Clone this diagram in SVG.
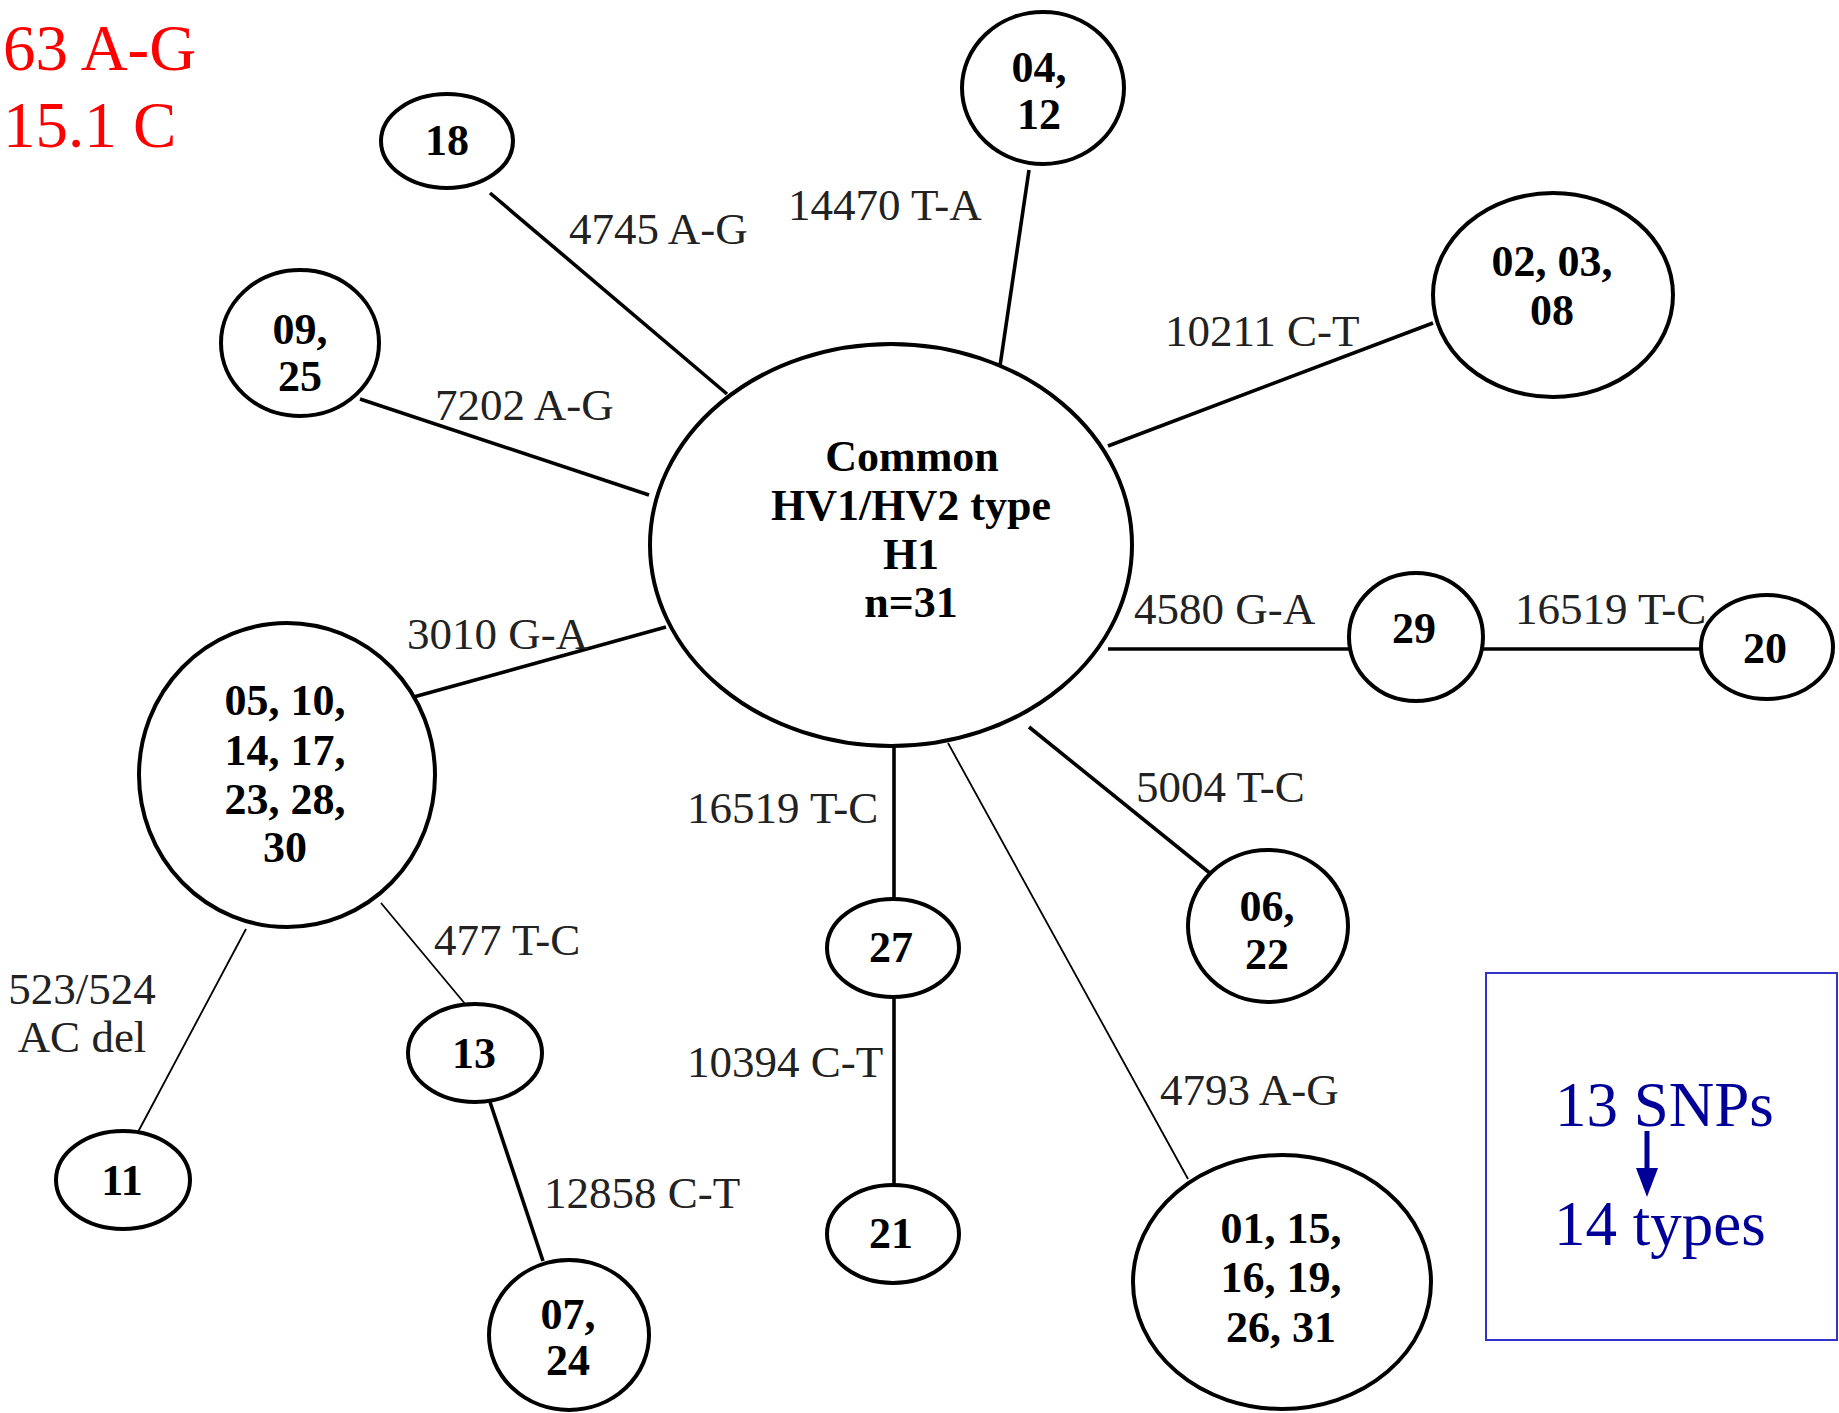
<svg xmlns="http://www.w3.org/2000/svg" width="1839" height="1413" viewBox="0 0 1839 1413">
<style>
.n{fill:#fff;stroke:#000;stroke-width:4}
.t{font-family:"Liberation Serif","Times New Roman",serif;font-weight:bold;font-size:44px;fill:#000;text-anchor:middle}
.l{font-family:"Liberation Serif","Times New Roman",serif;font-size:45px;fill:#222}
.k{stroke:#000;stroke-width:3.6;fill:none}
.f{stroke:#000;stroke-width:1.8;fill:none}
</style>
<rect width="1839" height="1413" fill="#fff"/>
<g id="connectors">
<line class="k" x1="490" y1="193" x2="727" y2="394"/>
<line class="k" x1="1029" y1="170" x2="1000" y2="366"/>
<line class="k" x1="1433" y1="323" x2="1108" y2="446"/>
<line class="k" x1="360" y1="399" x2="649" y2="495"/>
<line class="k" x1="410" y1="698" x2="666" y2="627"/>
<line class="k" x1="1108" y1="649" x2="1349" y2="649"/>
<line class="k" x1="1482" y1="649" x2="1701" y2="649"/>
<line class="k" x1="1029" y1="727" x2="1211" y2="874"/>
<line class="k" x1="894" y1="746" x2="894" y2="900"/>
<line class="k" x1="894" y1="997" x2="894" y2="1185"/>
<line class="f" x1="948" y1="743" x2="1188" y2="1179"/>
<line class="f" x1="381" y1="903" x2="466" y2="1005"/>
<line class="f" x1="246" y1="929" x2="138" y2="1132"/>
<line class="k" x1="490" y1="1102" x2="543" y2="1261"/>
</g>
<g id="labels">
<text class="l" x="569" y="244">4745 A-G</text>
<text class="l" x="788" y="220">14470 T-A</text>
<text class="l" x="1165" y="346">10211 C-T</text>
<text class="l" x="435" y="420">7202 A-G</text>
<text class="l" x="407" y="649">3010 G-A</text>
<text class="l" x="1134" y="624">4580 G-A</text>
<text class="l" x="1515" y="624">16519 T-C</text>
<text class="l" x="1136" y="802">5004 T-C</text>
<text class="l" x="687" y="823">16519 T-C</text>
<text class="l" x="687" y="1077">10394 C-T</text>
<text class="l" x="1160" y="1105">4793 A-G</text>
<text class="l" x="434" y="955">477 T-C</text>
<text class="l" x="82" y="1004" text-anchor="middle">523/524</text>
<text class="l" x="82" y="1052" text-anchor="middle">AC del</text>
<text class="l" x="544" y="1208">12858 C-T</text>
</g>
<g id="H1">
<ellipse class="n" cx="891" cy="545" rx="241" ry="201"/>
<text class="t" x="912" y="471">Common</text>
<text class="t" x="911" y="520">HV1/HV2 type</text>
<text class="t" x="911" y="569">H1</text>
<text class="t" x="911" y="617">n=31</text>
</g>
<g id="n18"><ellipse class="n" cx="447" cy="141" rx="66" ry="47"/><text class="t" x="447" y="155">18</text></g>
<g id="n04"><ellipse class="n" cx="1043" cy="88" rx="81" ry="76"/><text class="t" x="1039" y="82">04,</text><text class="t" x="1039" y="129">12</text></g>
<g id="n02"><ellipse class="n" cx="1553" cy="295" rx="120" ry="102"/><text class="t" x="1552" y="276">02, 03,</text><text class="t" x="1552" y="325">08</text></g>
<g id="n09"><ellipse class="n" cx="300" cy="343" rx="79" ry="73"/><text class="t" x="300" y="344">09,</text><text class="t" x="300" y="391">25</text></g>
<g id="n05"><ellipse class="n" cx="287" cy="775" rx="148" ry="152"/><text class="t" x="285" y="715">05, 10,</text><text class="t" x="285" y="765">14, 17,</text><text class="t" x="285" y="814">23, 28,</text><text class="t" x="285" y="862">30</text></g>
<g id="n29"><ellipse class="n" cx="1416" cy="637" rx="67" ry="64"/><text class="t" x="1414" y="643">29</text></g>
<g id="n20"><ellipse class="n" cx="1767" cy="647" rx="66" ry="52"/><text class="t" x="1765" y="663">20</text></g>
<g id="n06"><ellipse class="n" cx="1268" cy="926" rx="80" ry="76"/><text class="t" x="1267" y="921">06,</text><text class="t" x="1267" y="969">22</text></g>
<g id="n27"><ellipse class="n" cx="893" cy="948" rx="66" ry="49"/><text class="t" x="891" y="962">27</text></g>
<g id="n21"><ellipse class="n" cx="893" cy="1234" rx="66" ry="49"/><text class="t" x="891" y="1248">21</text></g>
<g id="n01"><ellipse class="n" cx="1282" cy="1282" rx="149" ry="127"/><text class="t" x="1281" y="1243">01, 15,</text><text class="t" x="1281" y="1292">16, 19,</text><text class="t" x="1281" y="1342">26, 31</text></g>
<g id="n13"><ellipse class="n" cx="475" cy="1053" rx="67" ry="49"/><text class="t" x="474" y="1068">13</text></g>
<g id="n11"><ellipse class="n" cx="123" cy="1180" rx="67" ry="49"/><text class="t" x="122" y="1195">11</text></g>
<g id="n07"><ellipse class="n" cx="569" cy="1335" rx="80" ry="75"/><text class="t" x="568" y="1329">07,</text><text class="t" x="568" y="1375">24</text></g>
<g id="notes">
<text x="3" y="70" font-family="Liberation Serif, serif" font-size="65" fill="#ff0000">63 A-G</text>
<text x="3" y="147" font-family="Liberation Serif, serif" font-size="65" fill="#ff0000">15.1 C</text>
<rect x="1486" y="973" width="351" height="367" fill="none" stroke="#3333cc" stroke-width="2"/>
<text x="1555" y="1126" font-family="Liberation Serif, serif" font-size="63" fill="#000099">13 SNPs</text>
<line x1="1647" y1="1131" x2="1647" y2="1172" stroke="#000099" stroke-width="5"/>
<polygon points="1636,1168 1658,1168 1647,1197" fill="#000099"/>
<text x="1554" y="1245" font-family="Liberation Serif, serif" font-size="63" fill="#000099">14 types</text>
</g>
</svg>
